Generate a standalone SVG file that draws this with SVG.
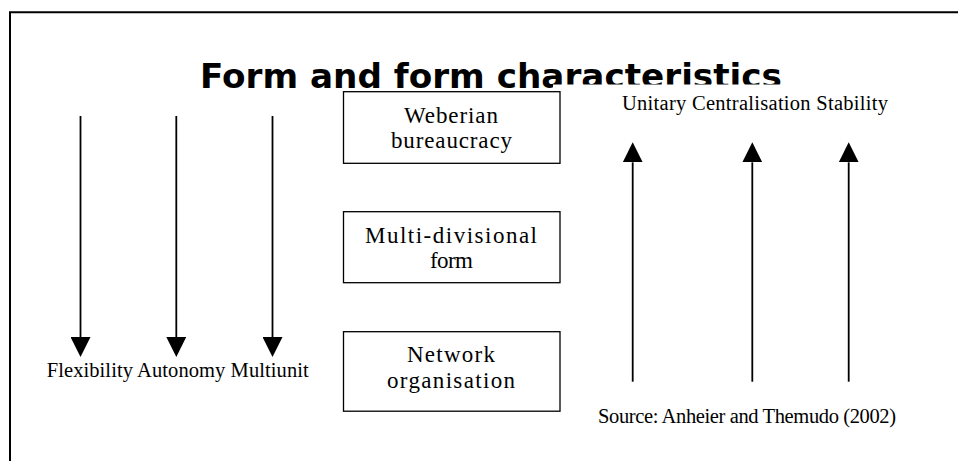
<svg xmlns="http://www.w3.org/2000/svg" width="958" height="461" viewBox="0 0 958 461">
  <style>
    .frame { fill: none; stroke: #000; stroke-width: 2; }
    .box { fill: #fff; stroke: #000; stroke-width: 1.3; }
    .title { font-family: "DejaVu Sans", "Verdana", sans-serif; font-weight: bold; font-size: 33px; fill: #000; }
    .lbl { font-family: "Liberation Serif", "Times New Roman", serif; font-size: 20.5px; fill: #000; }
    .boxtxt { font-family: "Liberation Serif", "Times New Roman", serif; font-size: 23px; fill: #000; text-anchor: middle; }
    .arrow { stroke: #000; stroke-width: 1.8; fill: none; }
  </style>
  <defs>
    <marker id="head" viewBox="0 -10 20 20" refX="0" refY="0" markerWidth="20" markerHeight="20" markerUnits="userSpaceOnUse" orient="auto">
      <path d="M0,-10 L20,0 L0,10 Z" fill="#000"/>
    </marker>
  </defs>
  <rect x="0" y="0" width="958" height="461" fill="#fff"/>
  <path class="frame" d="M10,461 V12.3 H958"/>

  <g id="title">
    <text class="title" x="200" y="88.3" textLength="582" lengthAdjust="spacingAndGlyphs">Form and form characteristics</text>
  </g>

  <g id="top-labels">
    <rect x="553" y="84.5" width="405" height="22" fill="#fff"/>
    <text class="lbl" x="622" y="110" textLength="266" lengthAdjust="spacing">Unitary Centralisation Stability</text>
  </g>

  <g id="weberian">
    <rect class="box" x="343.5" y="91.7" width="216.5" height="71.6"/>
    <text class="boxtxt" x="451" y="123.3" textLength="94" lengthAdjust="spacing">Weberian</text>
    <text class="boxtxt" x="451.5" y="148.3" textLength="121" lengthAdjust="spacing">bureaucracy</text>
  </g>

  <g id="multidivisional">
    <rect class="box" x="343.5" y="211.7" width="216.5" height="71"/>
    <text class="boxtxt" x="451" y="242.7" textLength="172" lengthAdjust="spacing">Multi-divisional</text>
    <text class="boxtxt" x="451.5" y="268" textLength="43" lengthAdjust="spacing">form</text>
  </g>

  <g id="network">
    <rect class="box" x="343.5" y="331.7" width="216.5" height="79.5"/>
    <text class="boxtxt" x="451" y="362" textLength="88" lengthAdjust="spacing">Network</text>
    <text class="boxtxt" x="451" y="388" textLength="128" lengthAdjust="spacing">organisation</text>
  </g>

  <g id="bottom-labels">
    <text class="lbl" x="46.7" y="376.7" textLength="262" lengthAdjust="spacing">Flexibility Autonomy Multiunit</text>
  </g>

  <g id="source">
    <text class="lbl" x="598" y="423.3" textLength="298" lengthAdjust="spacing">Source: Anheier and Themudo (2002)</text>
  </g>

  <g id="connectors">
    <line class="arrow" x1="80.5" y1="116" x2="80.5" y2="337" marker-end="url(#head)"/>
    <line class="arrow" x1="176.3" y1="116" x2="176.3" y2="337" marker-end="url(#head)"/>
    <line class="arrow" x1="272.5" y1="116" x2="272.5" y2="337" marker-end="url(#head)"/>
    <line class="arrow" x1="632.7" y1="381.7" x2="632.7" y2="162.3" marker-end="url(#head)"/>
    <line class="arrow" x1="752.3" y1="381.7" x2="752.3" y2="162.3" marker-end="url(#head)"/>
    <line class="arrow" x1="848.7" y1="381.7" x2="848.7" y2="162.3" marker-end="url(#head)"/>
  </g>
</svg>
